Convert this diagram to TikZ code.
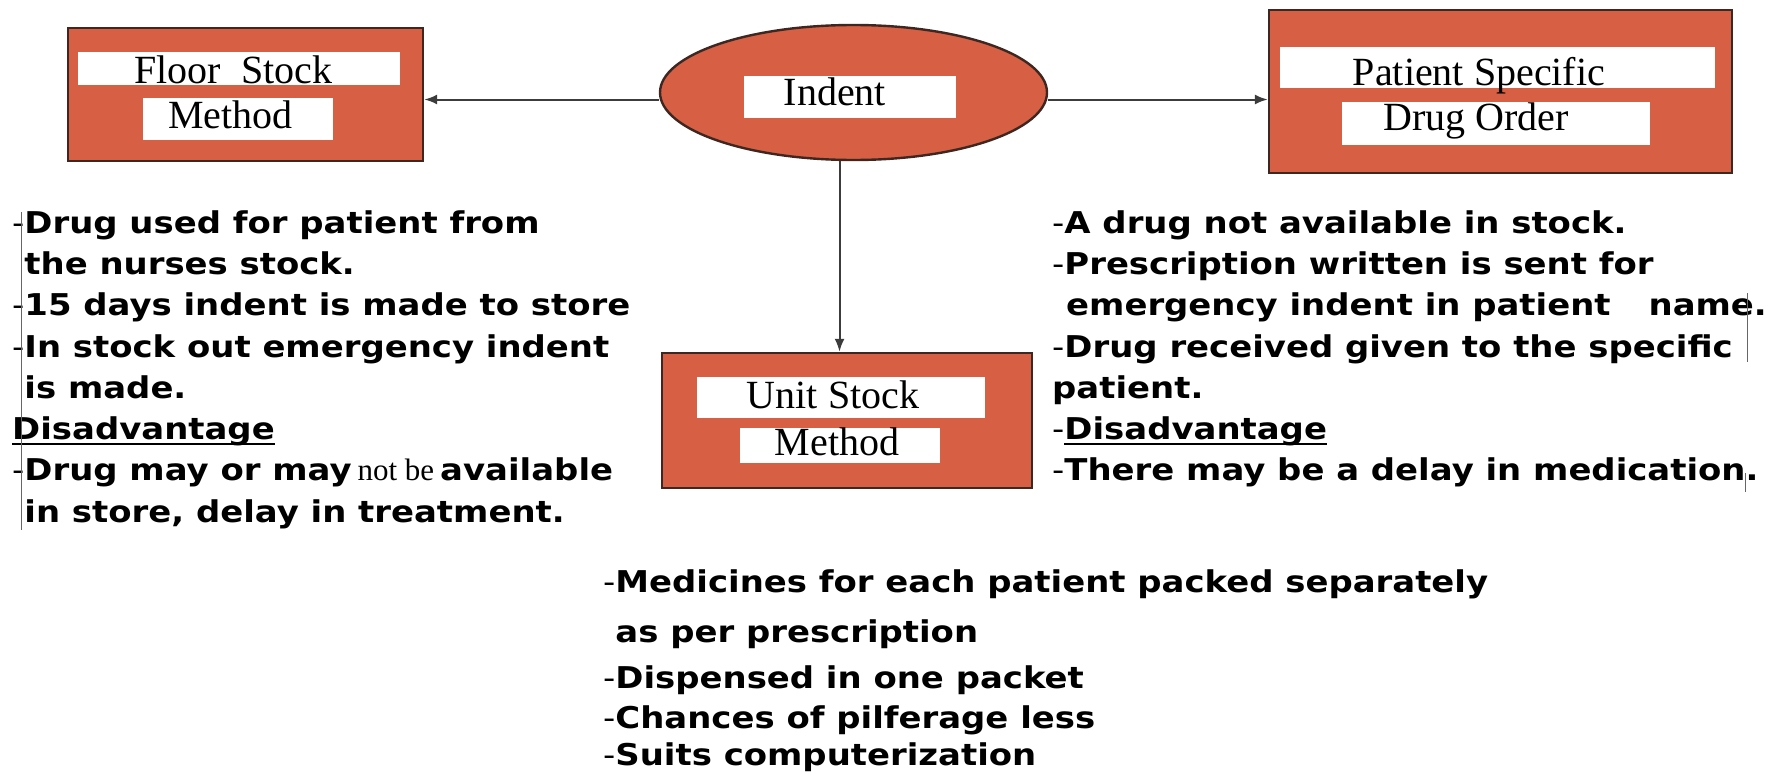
\documentclass[tikz,border=0pt]{standalone}
\usepackage{fontspec}
\setmainfont{Liberation Serif}
\newfontfamily\notefont{DejaVu Sans}[FakeStretch=1.13]
\usepackage{tikz}
\usetikzlibrary{positioning,shapes.geometric,arrows.meta}
\definecolor{brick}{HTML}{D75F43}
\definecolor{rim}{HTML}{3E2720}
\definecolor{wire}{HTML}{3C3C3C}
\newcommand\notedash{{\mdseries-}}
\newcommand\lineunder[1]{\setbox0\hbox{#1}\rlap{\rule[-5pt]{\wd0}{2pt}}\box0}

\tikzset{
  method/.style={draw=rim, fill=brick, line width=2.4pt},
  patch/.style={fill=white},
  boxlabel/.style={anchor=base, inner sep=0pt, font=\fontsize{40}{40}\selectfont},
  link/.style={draw=wire, line width=2pt, -{Latex[length=13pt,width=10pt]}},
  notes/.style={anchor=north west, inner sep=0pt, align=left,
    font=\notefont\bfseries\fontsize{30}{41.3}\selectfont},
  caret/.style={draw=black!60, line width=1pt}
}

\begin{document}
\begin{tikzpicture}[x=1pt,y=-1pt]
\useasboundingbox (0,0) rectangle (1791,776);

% the four methods
\node[method, minimum width=355pt, minimum height=133pt] (floor) at (245.5,94.5) {};
\node[method, ellipse, minimum width=387pt, minimum height=135pt] (indent) at (853.5,92.5) {};
\node[method, minimum width=463pt, minimum height=163pt] (patient) at (1500.5,91.5) {};
\node[method, minimum width=370pt, minimum height=135pt] (unit) at (847,420.5) {};

% white patches behind the labels
\fill[patch] (78,52) rectangle (400,85);
\fill[patch] (143,98) rectangle (333,140);
\fill[patch] (744,76) rectangle (956,118);
\fill[patch] (1280,47) rectangle (1715,88);
\fill[patch] (1342,102) rectangle (1650,145);
\fill[patch] (697,377) rectangle (985,418);
\fill[patch] (740,428) rectangle (940,463);

\node[boxlabel] (floortop) at (233.5,83) {Floor\ \ Stock};
\node[boxlabel] (floorbot) at (230.5,128) {Method};
\node[boxlabel] (indenttxt) at (835,106) {Indent};
\node[boxlabel] (patienttop) at (1479,85) {Patient Specific};
\node[boxlabel] (patientbot) at (1476,130) {Drug Order};
\node[boxlabel] (unittop) at (833,408) {Unit Stock};
\node[boxlabel] (unitbot) at (837,455) {Method};

% arrows out of the indent
\draw[link] ([yshift=-7pt]indent.west) -- ([yshift=-7pt]indent.west -| floor.east);
\draw[link] ([yshift=-7pt]indent.east) -- ([yshift=-7pt]indent.east -| patient.west);
\draw[link] ([xshift=-14pt]indent.south) -- ([xshift=-14pt]indent.south |- unit.north);

% notes
\node[notes] (floornotes) at (12,204) {\strut\notedash Drug used for patient from\\
\phantom{\notedash}the nurses stock.\\
\notedash 15 days indent is made to store\\
\notedash In stock out emergency indent\\
\phantom{\notedash}is made.\\
\lineunder{Disadvantage}\\
\notedash Drug may or may\hspace{6pt}{\rmfamily\mdseries\fontsize{31}{31}\selectfont not be}\hspace{6pt}available\\
\phantom{\notedash}in store, delay in treatment.};

\node[notes] (patientnotes) at (1052,204) {\strut\notedash A drug not available in stock.\\
\notedash Prescription written is sent for\\
\hspace{14pt}emergency indent in patient\hspace{38pt}name.\\
\notedash Drug received given to the specific\\
patient.\\
\notedash\lineunder{Disadvantage}\\
\notedash There may be a delay in medication.};

\node[notes, font=\notefont\bfseries\fontsize{30}{37}\selectfont] (unitnotes) at (603,566) {\strut\notedash Medicines for each patient packed separately\\[13pt]
\phantom{\notedash}as per prescription\\[9pt]
\notedash Dispensed in one packet\\[3pt]
\notedash Chances of pilferage less\\
\notedash Suits computerization};

\draw[caret] (21,212) -- (21,530);
\draw[caret] (1747,293) -- (1747,362);
\draw[caret] (1745,473) -- (1745,492);
\end{tikzpicture}
\end{document}
